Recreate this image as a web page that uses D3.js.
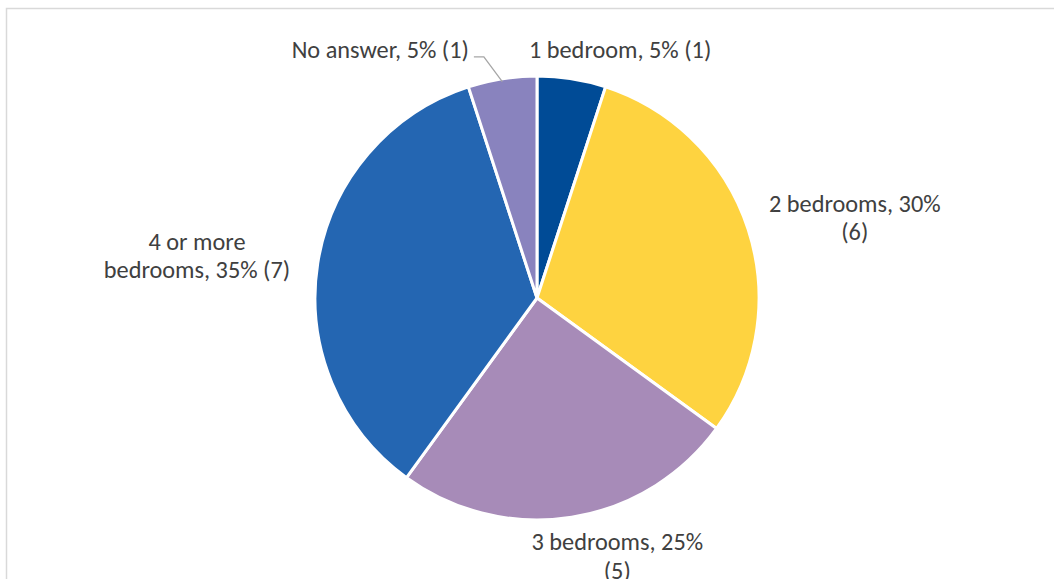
<!DOCTYPE html>
<html>
<head>
<meta charset="utf-8">
<script src="https://cdn.jsdelivr.net/npm/d3@7"></script>
<style>
  html, body { margin: 0; padding: 0; background: #fff; }
  svg { display: block; }
</style>
</head>
<body>
<svg id="chart" width="1054" height="579"></svg>
<script>
// Number of bedrooms in respondents' homes
const categories = ["1 bedroom", "2 bedrooms", "3 bedrooms", "4 or more bedrooms", "No answer"];
const counts = [1, 6, 5, 7, 1];
const percents = [5, 30, 25, 35, 5];
const labelLines = [
  ["1 bedroom, 5% (1)"],
  ["2 bedrooms, 30%", "(6)"],
  ["3 bedrooms, 25%", "(5)"],
  ["4 or more", "bedrooms, 35% (7)"],
  ["No answer, 5% (1)"]
];
const colors = ["#004b96", "#fed340", "#a78bb8", "#2466b2", "#8983be"];

// label placement tweaks (px) applied after the outside-end placement
const labelNudge = [[31, 5], [6, 3], [29, -9], [-9, 0], [-105, 5]];

const width = 1054, height = 579;
const cx = 537, cy = 298, radius = 222;
const fontSize = 24.3, lineHeight = 28.5;

const svg = d3.select("#chart");

// chart area frame
svg.append("rect")
  .attr("x", 6.5).attr("y", 8.5)
  .attr("width", 1200).attr("height", 800)
  .attr("fill", "none")
  .attr("stroke", "#d9d9d9")
  .attr("stroke-width", 1.5);

const data = categories.map((c, i) => ({ name: c, count: counts[i], pct: percents[i], i }));

const pie = d3.pie().value(d => d.count).sort(null);
const arcs = pie(data);
const arc = d3.arc().innerRadius(0).outerRadius(radius);

const g = svg.append("g").attr("transform", `translate(${cx},${cy})`);

g.selectAll("path.slice")
  .data(arcs)
  .join("path")
  .attr("class", "slice")
  .attr("d", arc)
  .attr("fill", d => colors[d.data.i])
  .attr("stroke", "#fff")
  .attr("stroke-width", 3)
  .attr("stroke-linejoin", "round");

// data labels
const labels = g.selectAll("g.label")
  .data(arcs)
  .join("g")
  .attr("class", "label");

labels.each(function (d) {
  const sel = d3.select(this);
  const lines = labelLines[d.data.i];
  const text = sel.append("text")
    .attr("font-family", "Carlito, Calibri, Lato, sans-serif")
    .attr("font-size", fontSize)
    .attr("fill", "#404040")
    .attr("text-anchor", "middle");
  lines.forEach((ln, k) => {
    text.append("tspan")
      .attr("x", 0)
      .attr("dy", k === 0 ? 0 : lineHeight)
      .text(ln);
  });
  const w = d3.max(text.selectAll("tspan").nodes(), n => n.getComputedTextLength());
  const h = lines.length * lineHeight;
  const a = (d.startAngle + d.endAngle) / 2;
  const rr = radius + 20;
  const px = rr * Math.sin(a), py = -rr * Math.cos(a);
  const nx = labelNudge[d.data.i][0], ny = labelNudge[d.data.i][1];
  const bx = px + (w / 2) * Math.sin(a) + nx;
  const by = py - (h / 2) * Math.cos(a) + ny;
  // vertical centre of the block -> first baseline
  const firstBaseline = by - h / 2 + lineHeight / 2 + fontSize * 0.35;
  text.attr("transform", `translate(${bx},${firstBaseline})`);
  d.labelBox = { x: bx - w / 2, y: by - h / 2, w, h, cx: bx, cy: by };
});

// leader line for the small slice whose label was moved away
arcs.filter(d => d.data.name === "No answer").forEach(d => {
  const a = (d.startAngle + d.endAngle) / 2;
  const end = [radius * Math.sin(a), -radius * Math.cos(a) + 3];
  const box = d.labelBox;
  const start = [box.x + box.w + 5, box.cy + 7];
  const elbow = [start[0] + 10, start[1]];
  g.append("path")
    .attr("d", d3.line()([start, elbow, end]))
    .attr("fill", "none")
    .attr("stroke", "#a6a6a6")
    .attr("stroke-width", 1.3);
});
</script>
</body>
</html>
